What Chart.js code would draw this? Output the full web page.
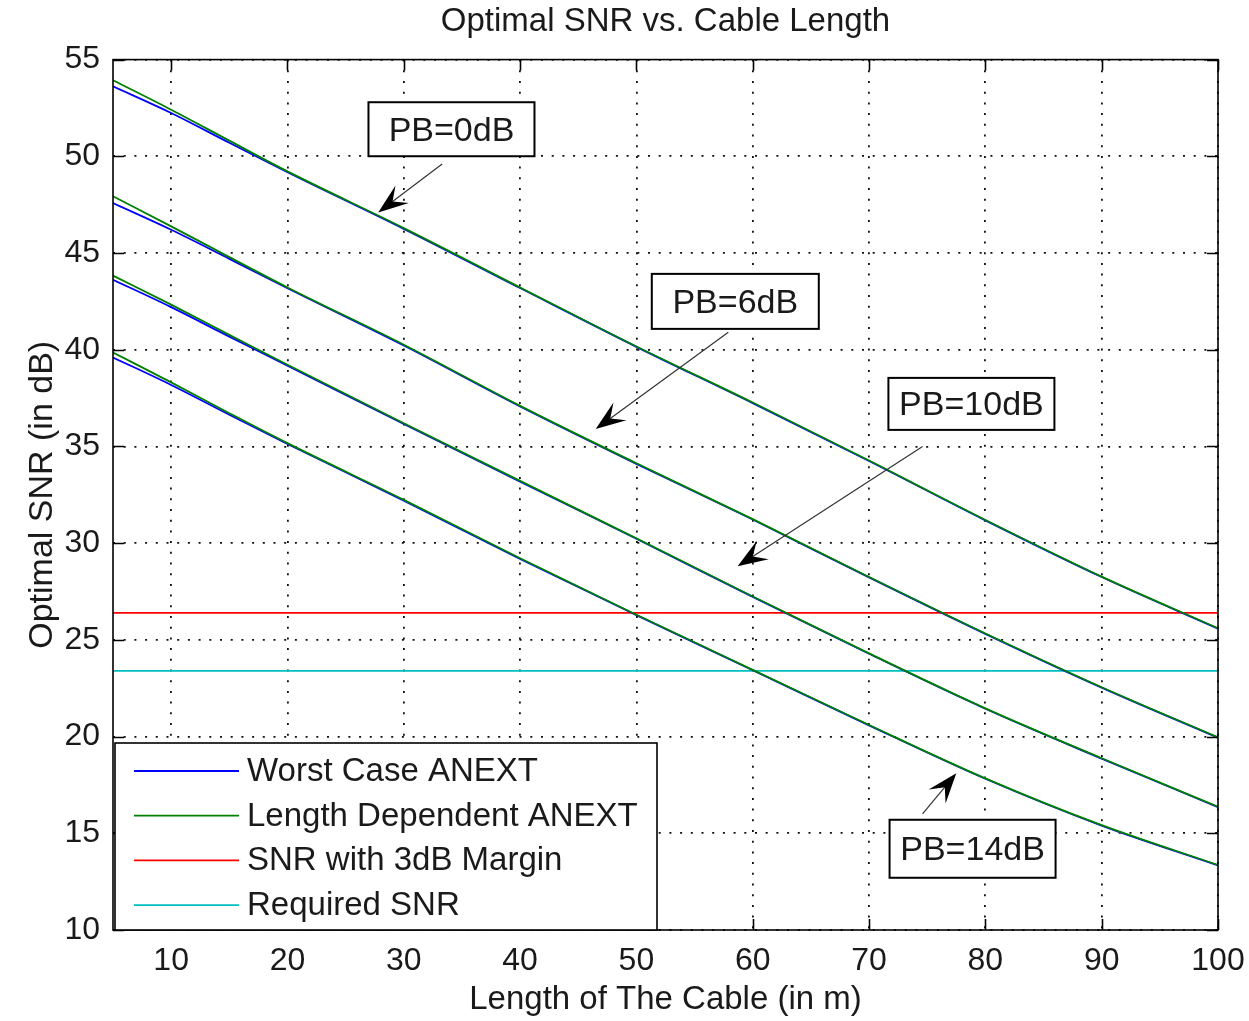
<!DOCTYPE html>
<html>
<head>
<meta charset="utf-8">
<title>Optimal SNR vs. Cable Length</title>
<script src="https://cdn.jsdelivr.net/npm/chart.js@4/dist/chart.umd.min.js"></script>
<style>
  html, body { margin: 0; padding: 0; background: #fff; }
  #chart { display: block; }
</style>
</head>
<body>
<canvas id="chart" width="1249" height="1021"></canvas>
<script>
// Cable lengths (m) where the SNR curves are sampled
const lengths = [5, 10, 15, 20, 30, 40, 50, 60, 70, 80, 90, 100];

// Optimal SNR (dB), length dependent ANEXT, one array per power back-off
const ldPb0  = [53.93, 52.41, 50.81, 49.22, 46.29, 43.22, 40.17, 37.27, 34.27, 31.20, 28.27, 25.60];
const ldPb6  = [47.93, 46.38, 44.79, 43.22, 40.26, 37.10, 34.13, 31.24, 28.25, 25.33, 22.55, 19.96];
const ldPb10 = [43.83, 42.33, 40.77, 39.22, 36.20, 33.22, 30.25, 27.24, 24.30, 21.46, 18.88, 16.37];
const ldPb14 = [39.86, 38.31, 36.72, 35.17, 32.24, 29.22, 26.30, 23.45, 20.60, 17.84, 15.42, 13.36];

// Optimal SNR (dB), worst case ANEXT
const wcPb0  = [53.62, 52.24, 50.70, 49.18, 46.25, 43.19, 40.15, 37.24, 34.25, 31.18, 28.25, 25.58];
const wcPb6  = [47.58, 46.20, 44.70, 43.18, 40.22, 37.07, 34.10, 31.22, 28.23, 25.31, 22.53, 19.94];
const wcPb10 = [43.62, 42.20, 40.68, 39.18, 36.16, 33.18, 30.23, 27.22, 24.28, 21.44, 18.86, 16.35];
const wcPb14 = [39.60, 38.18, 36.64, 35.13, 32.20, 29.18, 26.28, 23.43, 20.58, 17.82, 15.40, 13.34];

// Threshold lines
const limitLengths = [5, 100];
const marginSnr = [26.4, 26.4];
const requiredSnr = [23.4, 23.4];

// Axis ticks
const xTicks = [10, 20, 30, 40, 50, 60, 70, 80, 90, 100];
const yTicks = [10, 15, 20, 25, 30, 35, 40, 45, 50, 55];

const legendLabels = ['Worst Case ANEXT', 'Length Dependent ANEXT', 'SNR with 3dB Margin', 'Required SNR'];
const pbLabels = ['PB=0dB', 'PB=6dB', 'PB=10dB', 'PB=14dB'];

const BLUE = '#0000ff';
const GREEN = '#008000';
const RED = '#ff0000';
const CYAN = '#00bfbf';
const INK = '#1a1a1a';
const FONT = '"Liberation Sans", Arial, Helvetica, sans-serif';

// text boxes + arrows, placed in data units (x = m, y = dB)
const callouts = [
  { text: pbLabels[0], box: [34.1, 51.4], w: 166, h: 54, tail: [33.3, 49.6], tip: [27.8, 47.1] },
  { text: pbLabels[1], box: [58.5, 42.5], w: 167, h: 55, tail: [57.9, 40.9], tip: [46.5, 35.9] },
  { text: pbLabels[2], box: [78.8, 37.2], w: 166, h: 52, tail: [74.6, 35.0], tip: [58.7, 28.8] },
  { text: pbLabels[3], box: [78.9, 14.2], w: 166, h: 58, tail: [74.6, 16.0], tip: [77.5, 18.1] }
];

function toPoints(xs, ys) {
  return xs.map((x, i) => ({ x: x, y: ys[i] }));
}

function lineSet(label, xs, ys, color, order) {
  return {
    label: label,
    data: toPoints(xs, ys),
    borderColor: color,
    backgroundColor: color,
    borderWidth: 1.8,
    pointRadius: 0,
    cubicInterpolationMode: 'monotone',
    fill: false,
    order: order
  };
}

const datasets = [
  lineSet(legendLabels[1], lengths, ldPb0, GREEN, 1),
  lineSet(legendLabels[1], lengths, ldPb6, GREEN, 1),
  lineSet(legendLabels[1], lengths, ldPb10, GREEN, 1),
  lineSet(legendLabels[1], lengths, ldPb14, GREEN, 1),
  lineSet(legendLabels[0], lengths, wcPb0, BLUE, 2),
  lineSet(legendLabels[0], lengths, wcPb6, BLUE, 2),
  lineSet(legendLabels[0], lengths, wcPb10, BLUE, 2),
  lineSet(legendLabels[0], lengths, wcPb14, BLUE, 2),
  lineSet(legendLabels[2], limitLengths, marginSnr, RED, 3),
  lineSet(legendLabels[3], limitLengths, requiredSnr, CYAN, 3)
];

function drawArrow(ctx, x0, y0, x1, y1) {
  const ang = Math.atan2(y1 - y0, x1 - x0);
  const ux = Math.cos(ang), uy = Math.sin(ang);
  const nx = -uy, ny = ux;
  const len = 30, half = 11, notch = 18;
  ctx.save();
  ctx.strokeStyle = '#333';
  ctx.lineWidth = 1.2;
  ctx.beginPath();
  ctx.moveTo(x0, y0);
  ctx.lineTo(x1 - ux * notch, y1 - uy * notch);
  ctx.stroke();
  ctx.fillStyle = '#000';
  ctx.beginPath();
  ctx.moveTo(x1, y1);
  ctx.lineTo(x1 - ux * len + nx * half, y1 - uy * len + ny * half);
  ctx.lineTo(x1 - ux * notch, y1 - uy * notch);
  ctx.lineTo(x1 - ux * len - nx * half, y1 - uy * len - ny * half);
  ctx.closePath();
  ctx.fill();
  ctx.restore();
}

// axes box, inward tick marks, legend and PB callouts
const framePlugin = {
  id: 'frame',
  afterDatasetsDraw(chart) {
    const ctx = chart.ctx;
    const area = chart.chartArea;
    const xs = chart.scales.x, ys = chart.scales.y;
    const tick = 11;

    ctx.save();
    ctx.strokeStyle = '#000';
    ctx.lineWidth = 1.6;
    ctx.strokeRect(area.left, area.top, area.right - area.left, area.bottom - area.top);

    ctx.beginPath();
    xTicks.forEach(v => {
      const px = Math.round(xs.getPixelForValue(v)) + 0.5;
      ctx.moveTo(px, area.bottom); ctx.lineTo(px, area.bottom - tick);
      ctx.moveTo(px, area.top); ctx.lineTo(px, area.top + tick);
    });
    yTicks.forEach(v => {
      const py = Math.round(ys.getPixelForValue(v)) + 0.5;
      ctx.moveTo(area.left, py); ctx.lineTo(area.left + tick, py);
      ctx.moveTo(area.right, py); ctx.lineTo(area.right - tick, py);
    });
    ctx.stroke();

    // callouts
    ctx.font = '34px ' + FONT;
    ctx.textAlign = 'center';
    ctx.textBaseline = 'middle';
    callouts.forEach(c => {
      const bx = xs.getPixelForValue(c.box[0]);
      const by = ys.getPixelForValue(c.box[1]);
      ctx.fillStyle = '#fff';
      ctx.fillRect(bx - c.w / 2, by - c.h / 2, c.w, c.h);
      ctx.lineWidth = 2;
      ctx.strokeStyle = '#000';
      ctx.strokeRect(bx - c.w / 2, by - c.h / 2, c.w, c.h);
      ctx.fillStyle = INK;
      ctx.fillText(c.text, bx, by + 2);
      drawArrow(ctx,
        xs.getPixelForValue(c.tail[0]), ys.getPixelForValue(c.tail[1]),
        xs.getPixelForValue(c.tip[0]), ys.getPixelForValue(c.tip[1]));
    });

    // legend in the lower left corner
    const lw = 542, lh = 187;
    const lx = area.left + 2, ly = area.bottom - lh;
    ctx.fillStyle = '#fff';
    ctx.fillRect(lx, ly, lw, lh);
    ctx.lineWidth = 1.6;
    ctx.strokeStyle = '#000';
    ctx.strokeRect(lx, ly, lw, lh);
    ctx.font = '33px ' + FONT;
    const colors = [BLUE, GREEN, RED, CYAN];
    ctx.textAlign = 'left';
    legendLabels.forEach((label, i) => {
      const ry = ly + 28 + i * 44.7;
      ctx.strokeStyle = colors[i];
      ctx.lineWidth = 1.8;
      ctx.beginPath();
      ctx.moveTo(lx + 19, ry);
      ctx.lineTo(lx + 124, ry);
      ctx.stroke();
      ctx.fillStyle = INK;
      ctx.fillText(label, lx + 132, ry + 1);
    });
    ctx.restore();
  }
};

const gridStyle = {
  color: '#111',
  lineWidth: 1.8,
  drawTicks: false
};

new Chart(document.getElementById('chart'), {
  type: 'line',
  data: { datasets: datasets },
  options: {
    responsive: false,
    animation: false,
    events: [],
    layout: { padding: { left: 0, right: 31, top: 0, bottom: 0 } },
    plugins: {
      legend: { display: false },
      tooltip: { enabled: false },
      title: {
        display: true,
        fullSize: false,
        text: 'Optimal SNR vs. Cable Length',
        color: INK,
        font: { family: FONT, size: 33, weight: 'normal' },
        padding: { top: 2, bottom: 18 }
      }
    },
    scales: {
      x: {
        type: 'linear',
        min: 5,
        max: 100,
        grid: gridStyle,
        border: { display: false, dash: [2, 8.7] },
        afterBuildTicks: s => { s.ticks = xTicks.map(v => ({ value: v })); },
        afterFit: s => { s.height = 91; s.paddingLeft = 0; s.paddingRight = 0; },
        ticks: {
          color: INK,
          padding: 12,
          maxRotation: 0,
          font: { family: FONT, size: 32 }
        },
        title: {
          display: true,
          text: 'Length of The Cable (in m)',
          color: INK,
          font: { family: FONT, size: 33 },
          padding: { top: 0, bottom: 1 }
        }
      },
      y: {
        type: 'linear',
        min: 10,
        max: 55,
        grid: gridStyle,
        border: { display: false, dash: [2, 8.7] },
        afterBuildTicks: s => { s.ticks = yTicks.map(v => ({ value: v })); },
        afterFit: s => { s.width = 113; s.paddingTop = 0; s.paddingBottom = 0; },
        ticks: {
          color: INK,
          padding: 13,
          font: { family: FONT, size: 32 }
        },
        title: {
          display: true,
          text: 'Optimal SNR (in dB)',
          color: INK,
          font: { family: FONT, size: 34 },
          padding: { top: 22, bottom: 0 }
        }
      }
    }
  },
  plugins: [framePlugin]
});
</script>
</body>
</html>
